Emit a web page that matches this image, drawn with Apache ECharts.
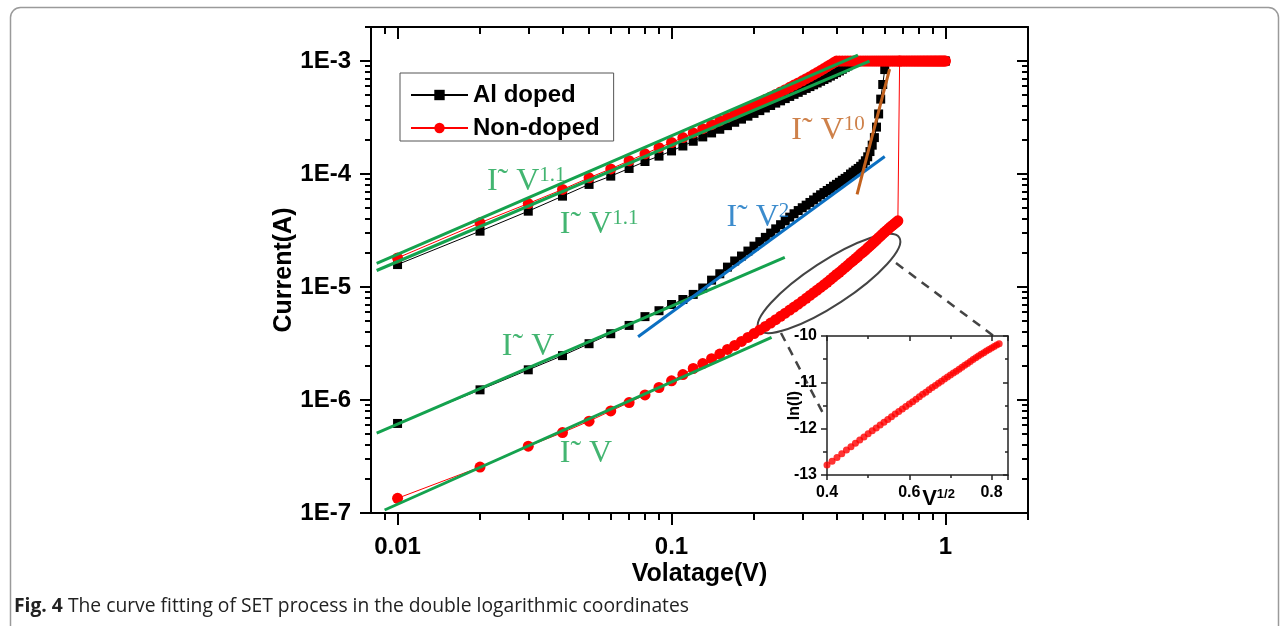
<!DOCTYPE html>
<html>
<head>
<meta charset="utf-8">
<script src="https://cdn.jsdelivr.net/npm/echarts@6/dist/echarts.min.js"></script>
<style>
  html, body { margin: 0; background: #fff; }
  #chart { width: 1284px; height: 626px; }
</style>
</head>
<body>
<div id="chart"></div>
<script>
// sweep voltages (V), 0.01 V steps
const volts = [
  0.01, 0.02, 0.03, 0.04, 0.05, 0.06, 0.07, 0.08, 0.09, 0.10,
  0.11, 0.12, 0.13, 0.14, 0.15, 0.16, 0.17, 0.18, 0.19, 0.20,
  0.21, 0.22, 0.23, 0.24, 0.25, 0.26, 0.27, 0.28, 0.29, 0.30,
  0.31, 0.32, 0.33, 0.34, 0.35, 0.36, 0.37, 0.38, 0.39, 0.40,
  0.41, 0.42, 0.43, 0.44, 0.45, 0.46, 0.47, 0.48, 0.49, 0.50,
  0.51, 0.52, 0.53, 0.54, 0.55, 0.56, 0.57, 0.58, 0.59, 0.60,
  0.61, 0.62, 0.63, 0.64, 0.65, 0.66, 0.67, 0.68, 0.69, 0.70,
  0.71, 0.72, 0.73, 0.74, 0.75, 0.76, 0.77, 0.78, 0.79, 0.80,
  0.81, 0.82, 0.83, 0.84, 0.85, 0.86, 0.87, 0.88, 0.89, 0.90,
  0.91, 0.92, 0.93, 0.94, 0.95, 0.96, 0.97, 0.98, 0.99, 1.00
];

// Al doped, forward sweep (HRS -> SET), 0.01 .. 0.61 V
const alForward = [
  6.2e-7, 1.23e-6, 1.85e-6, 2.47e-6, 3.15e-6, 3.86e-6, 4.57e-6, 5.47e-6, 6.17e-6, 7.0e-6,
  7.75e-6, 8.6e-6, 9.8e-6, 1.15e-5, 1.31e-5, 1.5e-5, 1.7e-5, 1.88e-5, 2.08e-5, 2.3e-5,
  2.52e-5, 2.75e-5, 3.0e-5, 3.27e-5, 3.56e-5, 3.85e-5, 4.15e-5, 4.45e-5, 4.75e-5, 5.03e-5,
  5.3e-5, 5.6e-5, 5.9e-5, 6.23e-5, 6.55e-5, 6.85e-5, 7.15e-5, 7.45e-5, 7.8e-5, 8.1e-5,
  8.45e-5, 8.8e-5, 9.15e-5, 9.5e-5, 1.0e-4, 1.04e-4, 1.08e-4, 1.12e-4, 1.17e-4, 1.23e-4,
  1.31e-4, 1.42e-4, 1.58e-4, 1.8e-4, 2.1e-4, 2.6e-4, 3.4e-4, 4.6e-4, 6.2e-4, 8.4e-4,
  1e-3
];
// Al doped, return sweep (LRS), listed 0.01 .. 1.00 V
const alReturn = [
  1.58e-5, 3.12e-5, 4.69e-5, 6.37e-5, 8.09e-5, 9.58e-5, 1.12e-4, 1.29e-4, 1.44e-4, 1.6e-4,
  1.77e-4, 1.95e-4, 2.13e-4, 2.31e-4, 2.49e-4, 2.68e-4, 2.87e-4, 3.06e-4, 3.25e-4, 3.44e-4,
  3.64e-4, 3.84e-4, 4.04e-4, 4.24e-4, 4.44e-4, 4.65e-4, 4.86e-4, 5.07e-4, 5.28e-4, 5.5e-4,
  5.72e-4, 5.94e-4, 6.16e-4, 6.39e-4, 6.62e-4, 6.86e-4, 7.1e-4, 7.35e-4, 7.61e-4, 7.88e-4,
  8.16e-4, 8.45e-4, 8.75e-4, 9.06e-4, 9.38e-4, 9.7e-4, 1e-3, 1e-3, 1e-3, 1e-3,
  1e-3, 1e-3, 1e-3, 1e-3, 1e-3, 1e-3, 1e-3, 1e-3, 1e-3, 1e-3,
  1e-3, 1e-3, 1e-3, 1e-3, 1e-3, 1e-3, 1e-3, 1e-3, 1e-3, 1e-3,
  1e-3, 1e-3, 1e-3, 1e-3, 1e-3, 1e-3, 1e-3, 1e-3, 1e-3, 1e-3,
  1e-3, 1e-3, 1e-3, 1e-3, 1e-3, 1e-3, 1e-3, 1e-3, 1e-3, 1e-3,
  1e-3, 1e-3, 1e-3, 1e-3, 1e-3, 1e-3, 1e-3, 1e-3, 1e-3, 1e-3
];

// Non-doped, forward sweep, 0.01 .. 0.68 V
const nonForward = [
  1.35e-7, 2.55e-7, 3.9e-7, 5.15e-7, 6.5e-7, 8.0e-7, 9.5e-7, 1.11e-6, 1.29e-6, 1.48e-6,
  1.68e-6, 1.9e-6, 2.1e-6, 2.32e-6, 2.55e-6, 2.8e-6, 3.04e-6, 3.3e-6, 3.58e-6, 3.87e-6,
  4.17e-6, 4.48e-6, 4.8e-6, 5.14e-6, 5.5e-6, 5.87e-6, 6.25e-6, 6.64e-6, 7.05e-6, 7.5e-6,
  7.95e-6, 8.42e-6, 8.9e-6, 9.4e-6, 9.92e-6, 1.045e-5, 1.1e-5, 1.16e-5, 1.225e-5, 1.29e-5,
  1.35e-5, 1.42e-5, 1.49e-5, 1.56e-5, 1.64e-5, 1.71e-5, 1.79e-5, 1.87e-5, 1.96e-5, 2.04e-5,
  2.12e-5, 2.22e-5, 2.31e-5, 2.41e-5, 2.51e-5, 2.62e-5, 2.73e-5, 2.84e-5, 2.95e-5, 3.06e-5,
  3.17e-5, 3.28e-5, 3.4e-5, 3.51e-5, 3.62e-5, 3.73e-5, 3.85e-5, 1e-3
];
// Non-doped, return sweep, listed 0.01 .. 1.00 V
const nonReturn = [
  1.81e-5, 3.7e-5, 5.48e-5, 7.3e-5, 9.26e-5, 1.11e-4, 1.31e-4, 1.51e-4, 1.71e-4, 1.9e-4,
  2.1e-4, 2.31e-4, 2.52e-4, 2.73e-4, 2.95e-4, 3.17e-4, 3.39e-4, 3.62e-4, 3.85e-4, 4.08e-4,
  4.32e-4, 4.56e-4, 4.81e-4, 5.06e-4, 5.32e-4, 5.58e-4, 5.85e-4, 6.12e-4, 6.4e-4, 6.68e-4,
  6.97e-4, 7.27e-4, 7.58e-4, 7.9e-4, 8.23e-4, 8.57e-4, 8.92e-4, 9.28e-4, 9.64e-4, 1e-3,
  1e-3, 1e-3, 1e-3, 1e-3, 1e-3, 1e-3, 1e-3, 1e-3, 1e-3, 1e-3,
  1e-3, 1e-3, 1e-3, 1e-3, 1e-3, 1e-3, 1e-3, 1e-3, 1e-3, 1e-3,
  1e-3, 1e-3, 1e-3, 1e-3, 1e-3, 1e-3, 1e-3, 1e-3, 1e-3, 1e-3,
  1e-3, 1e-3, 1e-3, 1e-3, 1e-3, 1e-3, 1e-3, 1e-3, 1e-3, 1e-3,
  1e-3, 1e-3, 1e-3, 1e-3, 1e-3, 1e-3, 1e-3, 1e-3, 1e-3, 1e-3,
  1e-3, 1e-3, 1e-3, 1e-3, 1e-3, 1e-3, 1e-3, 1e-3, 1e-3, 1e-3
];

// fitted power laws, [V, I] end points
const fitLrsNon = [[0.00839, 1.62e-5], [0.479, 1.125e-3]];
const fitLrsAl = [[0.00839, 1.40e-5], [0.528, 1.0e-3]];
const fitOhmAl = [[0.00839, 5.08e-7], [0.259, 1.83e-5]];
const fitOhmNon = [[0.00897, 1.063e-7], [0.2318, 3.58e-6]];
const fitSquare = [[0.0755, 3.63e-6], [0.600, 1.43e-4]];
const fitTenth = [[0.4755, 6.6e-5], [0.625, 8.46e-4]];

// annotation anchors (left / baseline) and exponents
const noteVolt = [0.02128, 0.03925, 0.02413, 0.03925, 0.1593, 0.2748];
const noteCurr = [6.73e-5, 2.797e-5, 2.366e-6, 2.664e-7, 3.227e-5, 1.906e-4];
const noteExp = ['1.1', '1.1', '', '', '2', '10'];

// ticks
const xMajor = [0.01, 0.1, 1];
const xMinor = [0.009, 0.02, 0.03, 0.04, 0.05, 0.06, 0.07, 0.08, 0.09,
  0.2, 0.3, 0.4, 0.5, 0.6, 0.7, 0.8, 0.9, 2];
const yMajor = [1e-7, 1e-6, 1e-5, 1e-4, 1e-3];
const yMinor = [2e-7, 3e-7, 4e-7, 5e-7, 6e-7, 7e-7, 8e-7, 9e-7,
  2e-6, 3e-6, 4e-6, 5e-6, 6e-6, 7e-6, 8e-6, 9e-6,
  2e-5, 3e-5, 4e-5, 5e-5, 6e-5, 7e-5, 8e-5, 9e-5,
  2e-4, 3e-4, 4e-4, 5e-4, 6e-4, 7e-4, 8e-4, 9e-4, 2e-3];

const GREEN = '#14a24e';
const BLUE = '#0b6fc1';
const ORANGE = '#c2611d';
const SANS = 'Liberation Sans';
const SERIF = 'Liberation Serif';

const noteColor = [GREEN, GREEN, GREEN, GREEN, BLUE, ORANGE];

function sweep(fwd, ret) {
  const pts = fwd.map((c, i) => [volts[i], c]);
  for (let i = ret.length - 1; i >= 0; i--) pts.push([volts[i], ret[i]]);
  return pts;
}

// inset: ln(I) vs V^1/2 of the non-doped forward branch above 0.16 V
const insetFrom = 15;
const insetPts = nonForward.slice(insetFrom, 67).map((c, k) => [Math.sqrt(volts[insetFrom + k]), Math.log(c)]);

const axisLineStyle = { color: '#000', width: 2 };

function logX(position, ticks, len, inside, line, label) {
  return {
    gridIndex: 0, type: 'log', logBase: 10, min: 0.008, max: 2, position: position,
    axisLine: { show: line, lineStyle: axisLineStyle },
    axisTick: { show: true, inside: inside, length: len, customValues: ticks, lineStyle: { color: '#000', width: 2 } },
    axisLabel: label ? {
      customValues: ticks, margin: 22, color: '#000', fontFamily: SANS, fontWeight: 'bold', fontSize: 24,
      formatter: v => String(v)
    } : { show: false },
    splitLine: { show: false }
  };
}
function logY(position, ticks, len, inside, line, label) {
  return {
    gridIndex: 0, type: 'log', logBase: 10, min: 1e-7, max: 2e-3, position: position,
    axisLine: { show: line, lineStyle: axisLineStyle },
    axisTick: { show: true, inside: inside, length: len, customValues: ticks, lineStyle: { color: '#000', width: 2 } },
    axisLabel: label ? {
      customValues: ticks, margin: 20, color: '#000', fontFamily: SANS, fontWeight: 'bold', fontSize: 24,
      formatter: v => '1E' + Math.round(Math.log10(v))
    } : { show: false },
    splitLine: { show: false }
  };
}

const xBottom = logX('bottom', xMajor, 12, false, true, true);
xBottom.name = 'Volatage(V)';
xBottom.nameLocation = 'middle';
xBottom.nameGap = 49;
xBottom.nameMoveOverlap = false;
xBottom.nameTextStyle = { color: '#000', fontFamily: SANS, fontWeight: 'bold', fontSize: 25 };
const yLeft = logY('left', yMajor, 11, false, true, true);
yLeft.name = 'Current(A)';
yLeft.nameLocation = 'middle';
yLeft.nameGap = 74;
yLeft.nameMoveOverlap = false;
yLeft.nameTextStyle = { color: '#000', fontFamily: SANS, fontWeight: 'bold', fontSize: 25 };

const insetAxis = { color: '#222', width: 1.5 };
const insetLabel = { color: '#000', fontFamily: SANS, fontWeight: 'bold', fontSize: 16 };

function fitSeries(pts, color) {
  return {
    type: 'line', data: pts, xAxisIndex: 0, yAxisIndex: 0, showSymbol: false, silent: true,
    lineStyle: { color: color, width: 3 }, z: 5
  };
}

const notes = noteVolt.map((v, i) => ({
  value: [v, noteCurr[i]],
  label: {
    color: noteColor[i],
    formatter: '{i|I}{t|˜}{v| V}' + (noteExp[i] ? '{s|' + noteExp[i] + '}' : '')
  }
}));

const option = {
  animation: false,
  backgroundColor: '#fff',
  grid: [
    { left: 371, top: 27, width: 657, height: 486 },
    { left: 827, top: 336, width: 181, height: 139, show: true, backgroundColor: '#fff', borderWidth: 0 }
  ],
  legend: {
    data: ['Al doped', 'Non-doped'],
    orient: 'vertical', left: 400, top: 73,
    borderColor: '#555', borderWidth: 1,
    padding: [10, 14, 1, 10], itemGap: 9,
    itemWidth: 57, itemHeight: 13,
    textStyle: { color: '#000', fontFamily: SANS, fontWeight: 'bold', fontSize: 24 }
  },
  xAxis: [
    xBottom,
    logX('bottom', xMinor, 7, false, false, false),
    logX('top', xMajor, 12, true, true, false),
    logX('top', xMinor, 7, true, false, false),
    {
      gridIndex: 1, type: 'value', min: 0.4, max: 0.84, interval: 0.2, position: 'bottom',
      axisLine: { onZero: false, lineStyle: insetAxis },
      axisTick: { inside: false, length: 5, lineStyle: insetAxis },
      minorTick: { show: true, splitNumber: 2, length: 3, lineStyle: insetAxis },
      axisLabel: Object.assign({ margin: 10, showMaxLabel: false, formatter: v => v.toFixed(1) }, insetLabel),
      splitLine: { show: false },
      name: '{a|V}{b|1/2}', nameLocation: 'middle', nameGap: 13, nameMoveOverlap: false,
      nameTextStyle: {
        padding: [0, 0, 0, 42],
        rich: {
          a: { fontFamily: SANS, fontWeight: 'bold', fontSize: 22, color: '#000' },
          b: { fontFamily: SANS, fontWeight: 'bold', fontSize: 13, color: '#000', verticalAlign: 'top' }
        }
      }
    },
    {
      gridIndex: 1, type: 'value', min: 0.4, max: 0.84, interval: 0.2, position: 'top',
      axisLine: { onZero: false, lineStyle: insetAxis },
      axisTick: { inside: true, length: 5, lineStyle: insetAxis },
      minorTick: { show: true, splitNumber: 2, length: 3, lineStyle: insetAxis },
      axisLabel: { show: false }, splitLine: { show: false }
    }
  ],
  yAxis: [
    yLeft,
    logY('left', yMinor, 6, false, false, false),
    logY('right', yMajor, 11, true, true, false),
    logY('right', yMinor, 6, true, false, false),
    {
      gridIndex: 1, type: 'value', min: -13, max: -10, interval: 1, position: 'left',
      axisLine: { onZero: false, lineStyle: insetAxis },
      axisTick: { inside: false, length: 6, lineStyle: insetAxis },
      minorTick: { show: true, splitNumber: 2, length: 4, lineStyle: insetAxis },
      axisLabel: Object.assign({ margin: 10 }, insetLabel),
      splitLine: { show: false },
      name: 'ln(I)', nameLocation: 'middle', nameGap: 24, nameMoveOverlap: false,
      nameTextStyle: { color: '#000', fontFamily: SANS, fontWeight: 'bold', fontSize: 16 }
    },
    {
      gridIndex: 1, type: 'value', min: -13, max: -10, interval: 1, position: 'right',
      axisLine: { onZero: false, lineStyle: insetAxis },
      axisTick: { inside: true, length: 5, lineStyle: insetAxis },
      minorTick: { show: true, splitNumber: 2, length: 3, lineStyle: insetAxis },
      axisLabel: { show: false }, splitLine: { show: false }
    }
  ],
  series: [
    {
      name: 'Al doped', type: 'line', xAxisIndex: 0, yAxisIndex: 0,
      data: sweep(alForward, alReturn),
      symbol: 'rect', symbolSize: 9, showSymbol: true,
      itemStyle: { color: '#000' }, lineStyle: { color: '#000', width: 1 }, z: 2
    },
    {
      name: 'Non-doped', type: 'line', xAxisIndex: 0, yAxisIndex: 0,
      data: sweep(nonForward, nonReturn),
      symbol: 'circle', symbolSize: 11, showSymbol: true,
      itemStyle: { color: '#ff0000' }, lineStyle: { color: '#ff0000', width: 1 }, z: 3
    },
    fitSeries(fitLrsNon, GREEN),
    fitSeries(fitLrsAl, GREEN),
    fitSeries(fitOhmAl, GREEN),
    fitSeries(fitOhmNon, GREEN),
    fitSeries(fitSquare, BLUE),
    fitSeries(fitTenth, ORANGE),
    {
      type: 'scatter', xAxisIndex: 0, yAxisIndex: 0, symbolSize: 1, silent: true, z: 6,
      itemStyle: { color: 'rgba(0,0,0,0)' },
      data: notes,
      label: {
        show: true, position: [0, 0], align: 'left', verticalAlign: 'bottom', offset: [0, 6],
        rich: {
          i: { fontFamily: SERIF, fontSize: 32, lineHeight: 34 },
          t: { fontFamily: SERIF, fontSize: 32, lineHeight: 34 },
          v: { fontFamily: SERIF, fontSize: 32, lineHeight: 34 },
          s: { fontFamily: SERIF, fontSize: 21, lineHeight: 15, verticalAlign: 'top' }
        }
      }
    },
    {
      type: 'scatter', xAxisIndex: 4, yAxisIndex: 4, data: insetPts,
      symbol: 'circle', symbolSize: 7, itemStyle: { color: '#ff0000' }, silent: true
    }
  ],
  graphic: [
    {
      type: 'rect', left: 8, top: 5, silent: true, z: -1,
      shape: { width: 1268, height: 700, r: 10 },
      style: { fill: 'none', stroke: '#9a9a9a', lineWidth: 1.5 }
    },
    {
      type: 'ellipse', x: 829, y: 283.5, rotation: 0.58, silent: true,
      shape: { cx: 0, cy: 0, rx: 84, ry: 22 },
      style: { fill: 'none', stroke: '#444', lineWidth: 2 }
    },
    {
      type: 'line', silent: true,
      shape: { x1: 781, y1: 333, x2: 825, y2: 417 },
      style: { stroke: '#444', lineWidth: 2.5, lineDash: [9, 7] }
    },
    {
      type: 'line', silent: true,
      shape: { x1: 896, y1: 263, x2: 995, y2: 337 },
      style: { stroke: '#444', lineWidth: 2.5, lineDash: [9, 7] }
    },
    {
      type: 'text', left: 14, top: 597, silent: true,
      style: {
        text: '{b|Fig. 4} The curve fitting of SET process in the double logarithmic coordinates',
        fontFamily: 'Open Sans', fontSize: 19.3, fill: '#222',
        rich: { b: { fontFamily: 'Open Sans', fontWeight: 'bold', fontSize: 19.3, fill: '#222' } }
      }
    }
  ]
};

const chart = echarts.init(document.getElementById('chart'));
chart.setOption(option);
</script>
</body>
</html>
